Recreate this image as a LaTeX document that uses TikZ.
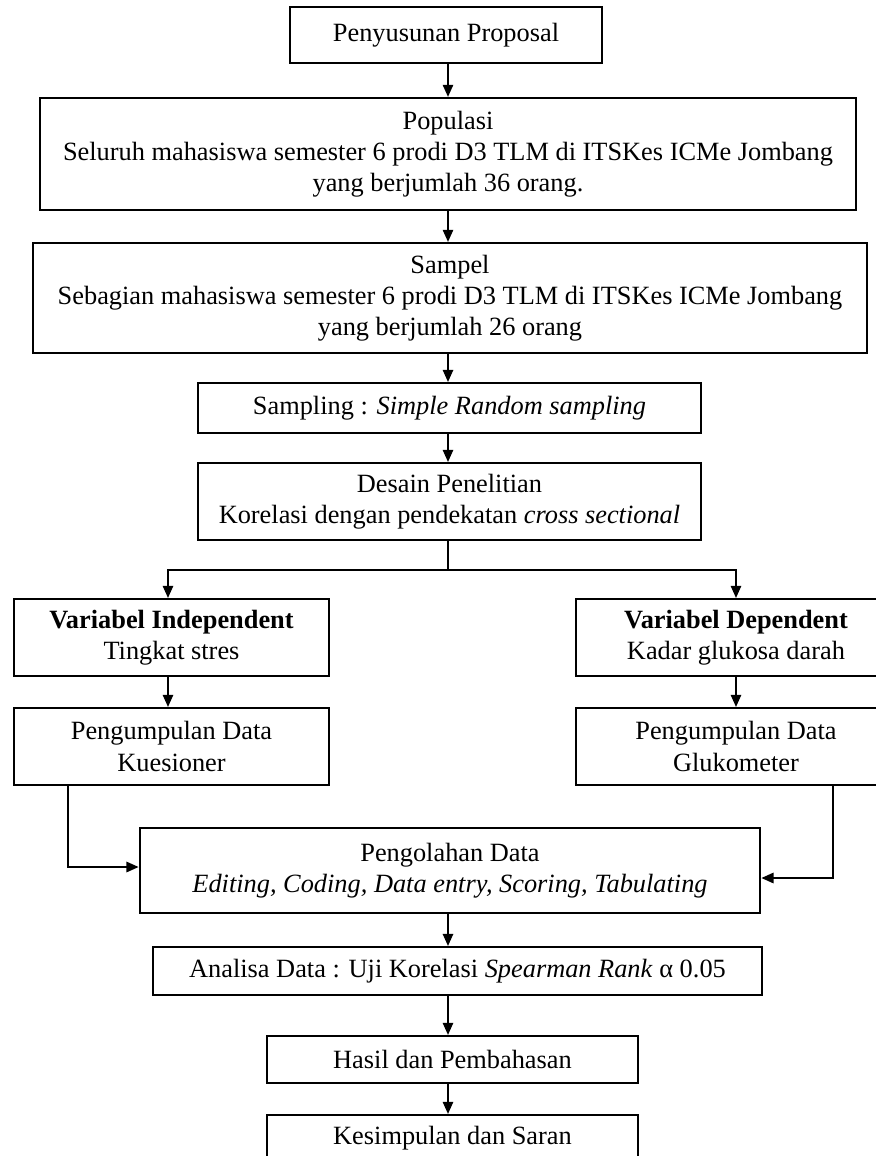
\documentclass[tikz,border=0pt]{standalone}
\usepackage{fontspec}
\setmainfont{Liberation Serif}
\usetikzlibrary{arrows.meta,positioning}

\begin{document}
\begin{tikzpicture}[x=0.444pt,y=-0.444pt,line width=0.8pt,
	main/.style = {draw, line width=0.9pt, inner sep=0pt, align=center, font=\fontsize{11.7}{13.9}\selectfont},
	>={Triangle[length=5.4pt,width=4.6pt]}]
	\useasboundingbox (0,0) rectangle (876,1156);
	\coordinate (axis) at (448,0);
	\node[main, minimum width=138.7pt, minimum height=24.9pt] (1) at (446,35) {Penyusunan Proposal};
	\node[main, minimum width=362.7pt, minimum height=49.8pt] (2) at (448,154) {Populasi\\Seluruh mahasiswa semester 6 prodi D3 TLM di ITSKes ICMe Jombang\\yang berjumlah 36 orang.};
	\node[main, minimum width=370.7pt, minimum height=48.9pt] (3) at (450,298) {Sampel\\Sebagian mahasiswa semester 6 prodi D3 TLM di ITSKes ICMe Jombang\\yang berjumlah 26 orang};
	\node[main, minimum width=223.6pt, minimum height=22.2pt] (4) at (449.5,408) {Sampling : \textit{Simple Random sampling}};
	\node[main, minimum width=223.6pt, minimum height=34.2pt] (5) at (449.5,501.5) {Desain Penelitian\\Korelasi dengan pendekatan \textit{cross sectional}};
	\node[main, minimum width=140pt, minimum height=34.2pt] (6) at (171.5,637.5) {\textbf{Variabel Independent}\\Tingkat stres};
	\node[main, minimum width=142.2pt, minimum height=34.2pt] (7) at (736,637.5) {\textbf{Variabel Dependent}\\Kadar glukosa darah};
	\node[main, minimum width=140pt, minimum height=34.2pt] (8) at (171.5,746.5) {Pengumpulan Data\\Kuesioner};
	\node[main, minimum width=142.2pt, minimum height=34.2pt] (9) at (736,746.5) {Pengumpulan Data\\Glukometer};
	\node[main, minimum width=275.6pt, minimum height=37.8pt] (10) at (450,870.5) {Pengolahan Data\\\textit{Editing, Coding, Data entry, Scoring, Tabulating}};
	\node[main, minimum width=270.7pt, minimum height=21.3pt] (11) at (457.5,971) {Analisa Data : Uji Korelasi \textit{Spearman Rank} α 0.05};
	\node[main, minimum width=164.9pt, minimum height=20.9pt] (12) at (452.5,1059.5) {Hasil dan Pembahasan};
	\node[main, minimum width=164.9pt, minimum height=20.9pt] (13) at (452.5,1138.5) {Kesimpulan dan Saran};
	\coordinate (fork) at (448,570);
	\coordinate (l) at (68,867);
	\coordinate (r) at (833,878);
	\draw[->] (1.south -| axis) -- (2.north -| axis);
	\draw[->] (2.south -| axis) -- (3.north -| axis);
	\draw[->] (3.south -| axis) -- (4.north -| axis);
	\draw[->] (4.south -| axis) -- (5.north -| axis);
	\draw (5.south -| axis) -- (fork);
	\draw[->] (fork) -| (6.north -| 168,0);
	\draw[->] (fork) -| (7);
	\draw[->] (6.south -| 168,0) -- (8.north -| 168,0);
	\draw[->] (7) -- (9);
	\draw[->] (l |- 8.south) -- (l) -- (l -| 10.west);
	\draw[->] (r |- 9.south) -- (r) -- (r -| 10.east);
	\draw[->] (10.south -| axis) -- (11.north -| axis);
	\draw[->] (11.south -| axis) -- (12.north -| axis);
	\draw[->] (12.south -| axis) -- (13.north -| axis);
\end{tikzpicture}
\end{document}
